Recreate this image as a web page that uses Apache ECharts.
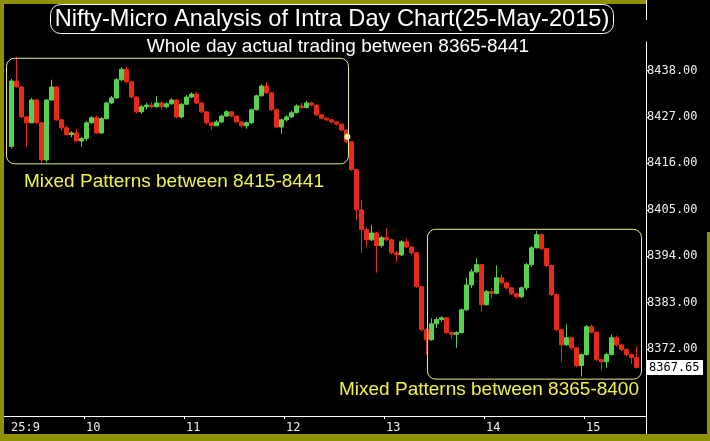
<!DOCTYPE html>
<html><head><meta charset="utf-8">
<script src="https://cdn.jsdelivr.net/npm/echarts@6/dist/echarts.min.js"></script>
<style>html,body{margin:0;padding:0;background:#000;}#c{width:710px;height:441px;}</style>
</head><body><div id="c"></div>
<script>
// ---- data (3-minute bars, 25-May-2015, Nifty) ----
const firstOpen = 8420.0;
const closes = [
8435.5,8434.1,8427.0,8425.6,8431.0,8425.6,8416.8,8431.0,8434.1,8426.3,
8424.4,8422.8,8423.2,8421.3,8421.9,8425.6,8426.8,8423.2,8426.6,8430.3,
8431.5,8435.8,8438.3,8435.3,8431.7,8428.2,8429.4,8429.8,8429.4,8430.3,
8429.4,8430.1,8431.0,8427.0,8430.0,8431.7,8432.4,8430.3,8428.2,8425.6,
8424.9,8425.8,8427.2,8428.2,8427.2,8425.8,8424.9,8425.6,8428.7,8432.0,
8434.3,8432.7,8428.7,8424.6,8426.3,8427.0,8428.0,8429.6,8429.2,8430.3,
8429.8,8427.5,8426.7,8426.3,8425.8,8425.3,8423.9,8421.1,8414.5,8405.0,
8400.3,8397.9,8399.5,8396.5,8398.4,8397.9,8394.8,8394.3,8397.4,8396.2,
8394.8,8386.8,8376.6,8374.2,8378.0,8379.0,8379.4,8375.9,8375.5,8375.9,
8381.3,8387.2,8390.3,8392.0,8382.5,8385.6,8385.2,8388.9,8387.7,8386.5,
8385.1,8384.4,8386.5,8392.0,8396.0,8399.1,8395.8,8391.8,8384.9,8376.6,
8373.0,8374.7,8372.3,8368.1,8370.7,8377.3,8376.0,8369.5,8369.0,8370.7,
8374.7,8373.0,8371.9,8370.7,8370.0,8367.65];
const highs = [
8436.0,8441.2,8434.3,8427.2,8431.5,8431.3,8425.8,8431.2,8435.8,8434.3,
8426.5,8424.9,8423.6,8424.2,8422.3,8426.0,8427.2,8427.3,8427.0,8430.6,
8432.0,8436.2,8438.8,8438.9,8435.5,8431.9,8429.8,8430.3,8430.6,8431.9,
8430.6,8430.5,8431.4,8431.2,8430.3,8432.2,8432.8,8432.9,8430.5,8428.3,
8425.8,8426.2,8427.5,8428.6,8428.4,8427.3,8426.0,8425.9,8429.0,8432.3,
8434.7,8435.3,8432.9,8428.9,8426.6,8427.4,8428.4,8430.0,8430.3,8430.8,
8430.6,8429.9,8427.6,8426.9,8426.5,8425.9,8425.4,8424.0,8421.2,8414.6,
8407.4,8400.8,8401.4,8399.8,8398.8,8400.6,8398.2,8395.3,8397.8,8398.2,
8396.5,8395.0,8387.0,8377.0,8379.3,8379.5,8379.8,8379.6,8376.2,8376.2,
8381.6,8388.9,8391.0,8393.6,8392.2,8386.0,8386.4,8391.8,8389.6,8388.0,
8386.7,8385.3,8386.9,8392.4,8396.4,8400.0,8399.5,8396.0,8392.0,8385.2,
8376.8,8377.8,8374.9,8372.5,8371.0,8377.7,8377.8,8376.2,8369.7,8371.1,
8375.4,8375.2,8373.3,8372.2,8371.0,8372.6];
const lows = [
8419.5,8434.0,8426.8,8419.9,8425.5,8425.3,8416.0,8416.2,8430.8,8426.0,
8423.7,8422.6,8422.2,8421.1,8419.9,8421.3,8425.4,8422.9,8423.0,8426.4,
8430.0,8431.3,8435.5,8435.0,8431.4,8427.8,8427.7,8428.8,8429.0,8429.2,
8428.7,8429.0,8429.9,8426.6,8426.7,8429.8,8431.5,8430.0,8427.9,8425.2,
8423.9,8424.8,8425.6,8427.0,8426.9,8425.5,8424.5,8424.2,8425.3,8428.5,
8431.8,8432.4,8428.4,8424.3,8423.0,8425.9,8426.8,8427.8,8428.9,8429.0,
8429.5,8427.2,8426.4,8426.0,8425.5,8425.0,8423.6,8420.8,8414.2,8402.6,
8394.8,8396.2,8397.6,8390.1,8396.0,8397.5,8394.4,8392.7,8394.0,8395.9,
8394.3,8386.5,8376.2,8370.7,8374.0,8377.0,8378.5,8375.6,8374.6,8372.3,
8375.7,8381.0,8386.5,8390.0,8380.9,8382.3,8384.1,8385.0,8387.3,8386.2,
8384.8,8383.9,8384.0,8386.0,8391.5,8395.8,8395.4,8391.4,8384.5,8376.2,
8369.0,8372.8,8371.8,8367.7,8365.5,8370.5,8375.7,8369.1,8367.0,8367.6,
8370.5,8372.6,8371.5,8370.3,8368.5,8367.4];
const startMinute = 555;      // 9:15
const barMinutes = 3;
const xTickMinutes = [600, 660, 720, 780, 840, 900];
const xLabelMinutes = [555, 600, 660, 720, 780, 840, 900];
const xLabelTexts = ['25:9', '10', '11', '12', '13', '14', '15'];
const yTicks = [8372, 8383, 8394, 8405, 8416, 8427, 8438];
const lastPrice = 8367.65;
const turnPoint = [758, 8422.3];
const zone1 = [553.2, 758.4, 8416, 8441];
const zone2 = [805.8, 934.2, 8365, 8400.5];
const titleText = 'Nifty-Micro Analysis of Intra Day Chart(25-May-2015)';
const subTitleText = 'Whole day actual trading between 8365-8441';
const zone1Text = 'Mixed Patterns between 8415-8441';
const zone2Text = 'Mixed Patterns between 8365-8400';

// ---- build rows ----
const rows = closes.map((c, i) => {
  const o = i === 0 ? firstOpen : closes[i - 1];
  return [startMinute + barMinutes * i + barMinutes / 2, o, c, lows[i], highs[i]];
});

const UP = '#55d24e', DOWN = '#e82a1a';
const OLIVE = '#8f9006';
const MONO = 'DejaVu Sans Mono';
const chart = echarts.init(document.getElementById('c'), null, {renderer: 'canvas'});
chart.setOption({
  backgroundColor: '#000',
  animation: false,
  grid: {left: 4, right: 64, top: 42, bottom: 25, outerBoundsMode: 'none', containLabel: false},
  xAxis: {
    type: 'value', min: 552, max: 937.2,
    axisLine: {show: true, onZero: false, lineStyle: {color: '#ffffff', width: 1}},
    axisTick: {show: true, customValues: xTickMinutes, length: 3, lineStyle: {color: '#ffffff'}},
    axisLabel: {
      customValues: xLabelMinutes, color: '#f0f0f0', fontFamily: MONO, fontSize: 12,
      align: 'left', margin: 6, padding: [0, 0, 0, 2],
      formatter: v => { const k = xLabelMinutes.indexOf(Math.round(v)); return k >= 0 ? xLabelTexts[k] : ''; }
    },
    splitLine: {show: false}
  },
  yAxis: {
    type: 'value', position: 'right', min: 8356.15, max: 8444.74,
    axisLine: {show: true, onZero: false, lineStyle: {color: '#ffffff', width: 1}},
    axisTick: {show: true, customValues: yTicks, length: 3, lineStyle: {color: '#ffffff'}},
    axisLabel: {customValues: yTicks, color: '#f0f0f0', fontFamily: MONO, fontSize: 12, margin: 1,
      formatter: v => v.toFixed(2)},
    splitLine: {show: false}
  },
  series: [{
    type: 'candlestick',
    data: rows,
    encode: {x: 0, y: [1, 2, 3, 4]},
    barWidth: 4,
    itemStyle: {color: UP, color0: DOWN, borderColor: UP, borderColor0: DOWN, borderWidth: 1},
    markPoint: {
      silent: true, symbol: 'circle', symbolSize: 6, animation: false,
      itemStyle: {color: '#f4f0a8'}, label: {show: false},
      data: [{coord: turnPoint}]
    }
  }]
});

function box(z) {
  const p1 = chart.convertToPixel({gridIndex: 0}, [z[0], z[3]]);
  const p2 = chart.convertToPixel({gridIndex: 0}, [z[1], z[2]]);
  return {type: 'rect', shape: {x: p1[0] + 0.5, y: p1[1] + 0.5, width: p2[0] - p1[0], height: p2[1] - p1[1], r: 8},
    style: {fill: 'none', stroke: '#ecec8c', lineWidth: 1}, z: 10};
}
function txt(t, x, y, size, color, align) {
  return {type: 'text', x: x, y: y, z: 20,
    style: {text: t, fill: color, font: size + 'px "Liberation Sans", Arial, sans-serif',
      align: align, verticalAlign: 'middle', textAlign: align, textVerticalAlign: 'middle'}};
}
const priceY = chart.convertToPixel({yAxisIndex: 0}, lastPrice);
chart.setOption({graphic: [
  {type: 'rect', shape: {x: 0, y: 0, width: 646, height: 4}, style: {fill: OLIVE}, z: 30},
  {type: 'rect', shape: {x: 0, y: 0, width: 4, height: 441}, style: {fill: OLIVE}, z: 30},
  {type: 'rect', shape: {x: 0, y: 434, width: 710, height: 7}, style: {fill: OLIVE}, z: 30},
  {type: 'rect', shape: {x: 707, y: 232, width: 3, height: 209}, style: {fill: OLIVE}, z: 30},
  {type: 'line', shape: {x1: 646.5, y1: 0, x2: 646.5, y2: 20}, style: {stroke: '#fff', lineWidth: 1}, z: 5},
  {type: 'line', shape: {x1: 646.5, y1: 416, x2: 646.5, y2: 434}, style: {stroke: '#fff', lineWidth: 1}, z: 5},
  {type: 'rect', shape: {x: 50.5, y: 4.5, width: 563, height: 29, r: 10}, style: {fill: '#000', stroke: '#fff', lineWidth: 1}, z: 10},
  txt(titleText, 332, 19.5, 23.6, '#ffffff', 'center'),
  txt(subTitleText, 338, 47, 19, '#ffffff', 'center'),
  box(zone1), box(zone2),
  txt(zone1Text, 24, 182, 19, '#f2f246', 'left'),
  txt(zone2Text, 339, 390, 19, '#f2f246', 'left'),
  {type: 'rect', shape: {x: 647, y: priceY - 7.5, width: 56, height: 15}, style: {fill: '#ffffff'}, z: 25},
  {type: 'text', x: 649, y: priceY, z: 26,
    style: {text: lastPrice.toFixed(2), fill: '#000', font: '12px "DejaVu Sans Mono", monospace',
      align: 'left', verticalAlign: 'middle', textAlign: 'left', textVerticalAlign: 'middle'}}
]});
</script></body></html>
